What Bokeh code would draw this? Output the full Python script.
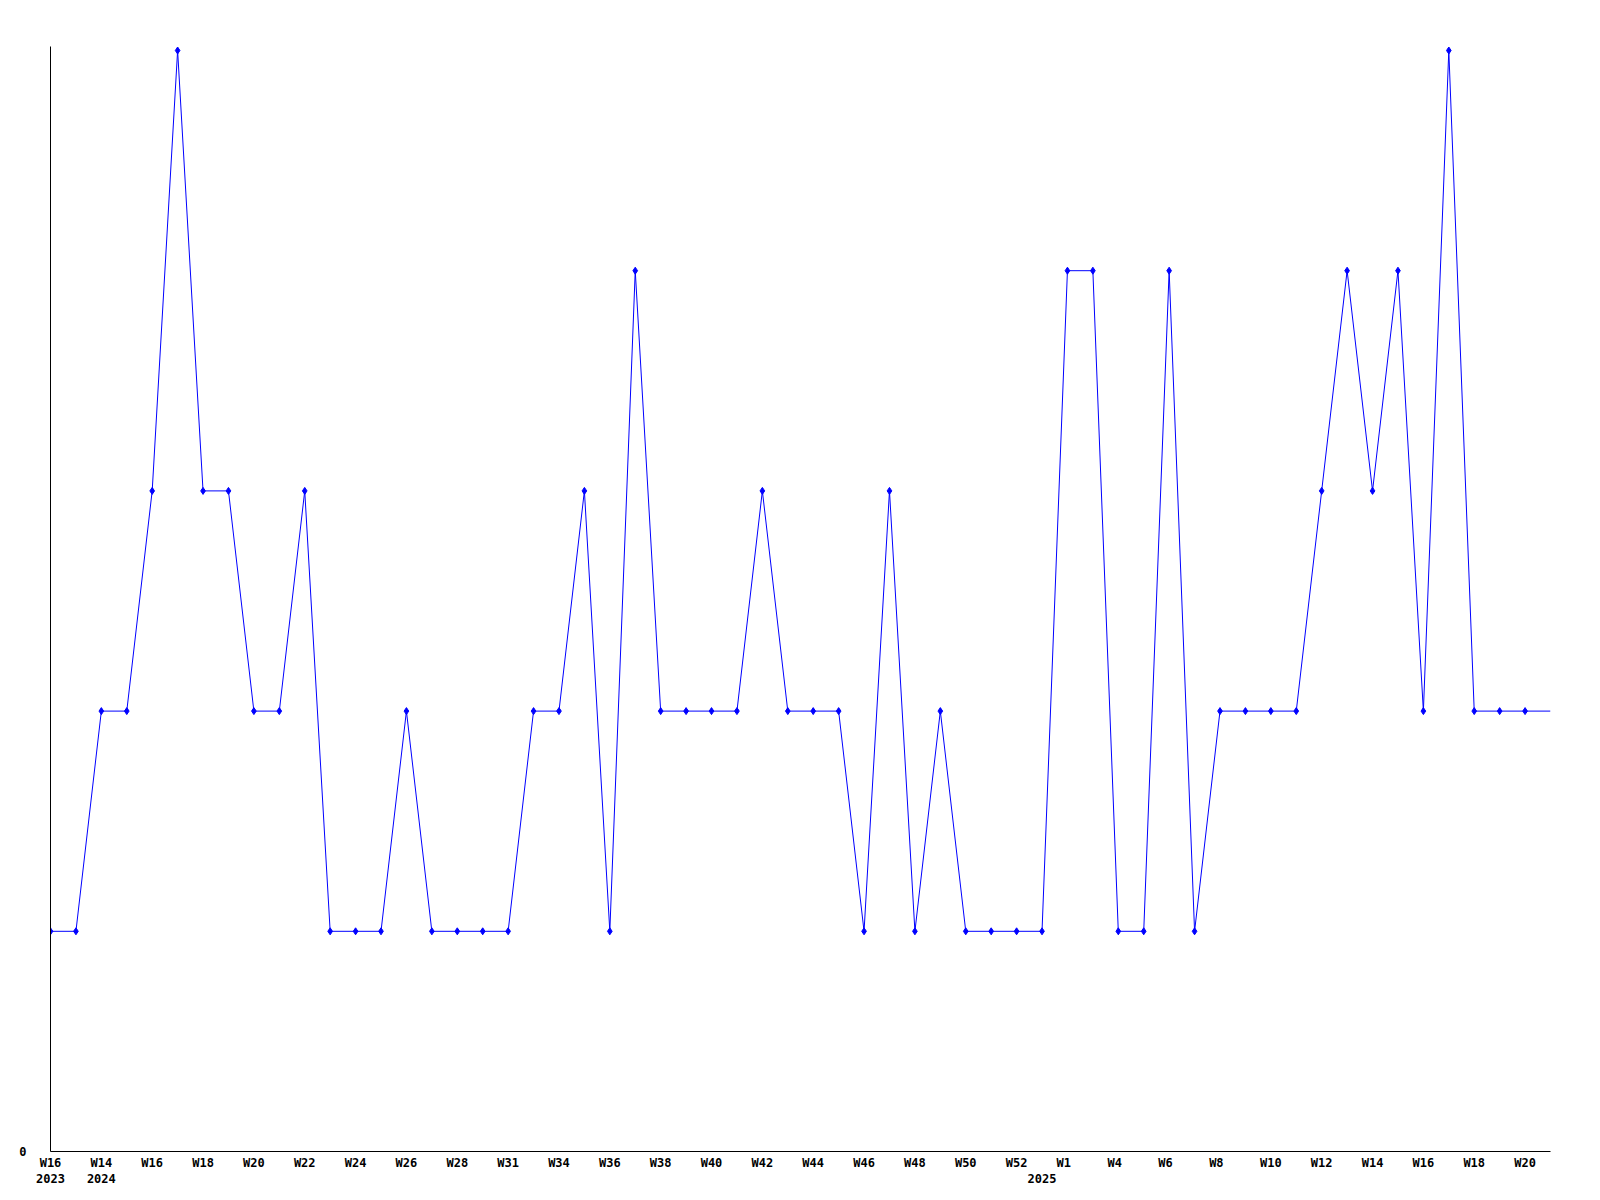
from bokeh.plotting import figure
from bokeh.models import Range1d, FixedTicker, ColumnDataSource
from bokeh.embed import file_html
from bokeh.resources import INLINE

# Data: one value per week (categorical sequence of weeks)
week_labels = ["W16\n2023", "", "W14\n2024", "", "W16", "", "W18", "", "W20", "",
               "W22", "", "W24", "", "W26", "", "W28", "", "W31", "",
               "W34", "", "W36", "", "W38", "", "W40", "", "W42", "",
               "W44", "", "W46", "", "W48", "", "W50", "", "W52", "\n2025",
               "W1 ", "", "W4 ", "", "W6 ", "", "W8 ", "", "W10", "",
               "W12", "", "W14", "", "W16", "", "W18", "", "W20", ""]
values = [1, 1, 2, 2, 3, 5, 3, 3, 2, 2,
          3, 1, 1, 1, 2, 1, 1, 1, 1, 2,
          2, 3, 1, 4, 2, 2, 2, 2, 3, 2,
          2, 2, 1, 3, 1, 2, 1, 1, 1, 1,
          4, 4, 1, 1, 4, 1, 2, 2, 2, 2,
          3, 4, 3, 4, 2, 5, 2, 2, 2, 2]
y_ticks = [0]

xs = list(range(len(values)))
src = ColumnDataSource(dict(x=xs, y=values))
mk = ColumnDataSource(dict(x=xs[:-1], y=values[:-1]))

# frame: x 50..1550, y (value 5 at 50) .. (value 0 at 1150); 4px headroom for markers
p = figure(width=1584, height=1189, output_backend="svg", toolbar_location=None,
           x_range=Range1d(0, len(values) - 1), y_range=Range1d(0, 5 + 4 / 220),
           min_border_left=50, min_border_right=34, min_border_top=46,
           min_border_bottom=34)
p.outline_line_color = None
p.xgrid.visible = False
p.ygrid.visible = False
p.background_fill_color = "white"
p.border_fill_color = "white"

p.line("x", "y", source=src, line_color="#0000ff", line_width=1)
p.scatter("x", "y", source=mk, marker="diamond", size=7,
          fill_color="#0000ff", line_color="#0000ff", line_width=1)

font = "DejaVu Sans Mono"
xa = p.xaxis[0]
xa.ticker = FixedTicker(ticks=xs)
xa.major_label_overrides = {i: lab for i, lab in enumerate(week_labels)}
xa.major_tick_in = 0
xa.major_tick_out = 0
xa.minor_tick_line_color = None
xa.axis_line_color = "black"
xa.axis_line_width = 1
xa.major_label_text_font = font
xa.major_label_text_font_style = "bold"
xa.major_label_text_font_size = "12px"
xa.major_label_text_color = "black"
xa.major_label_standoff = 4

ya = p.yaxis[0]
ya.ticker = FixedTicker(ticks=y_ticks)
ya.major_tick_in = 0
ya.major_tick_out = 0
ya.minor_tick_line_color = None
ya.axis_line_color = "black"
ya.major_label_text_font = font
ya.major_label_text_font_style = "bold"
ya.major_label_text_font_size = "12px"
ya.major_label_text_color = "black"
ya.major_label_standoff = 24

open("out.html", "w").write(file_html(p, INLINE))
